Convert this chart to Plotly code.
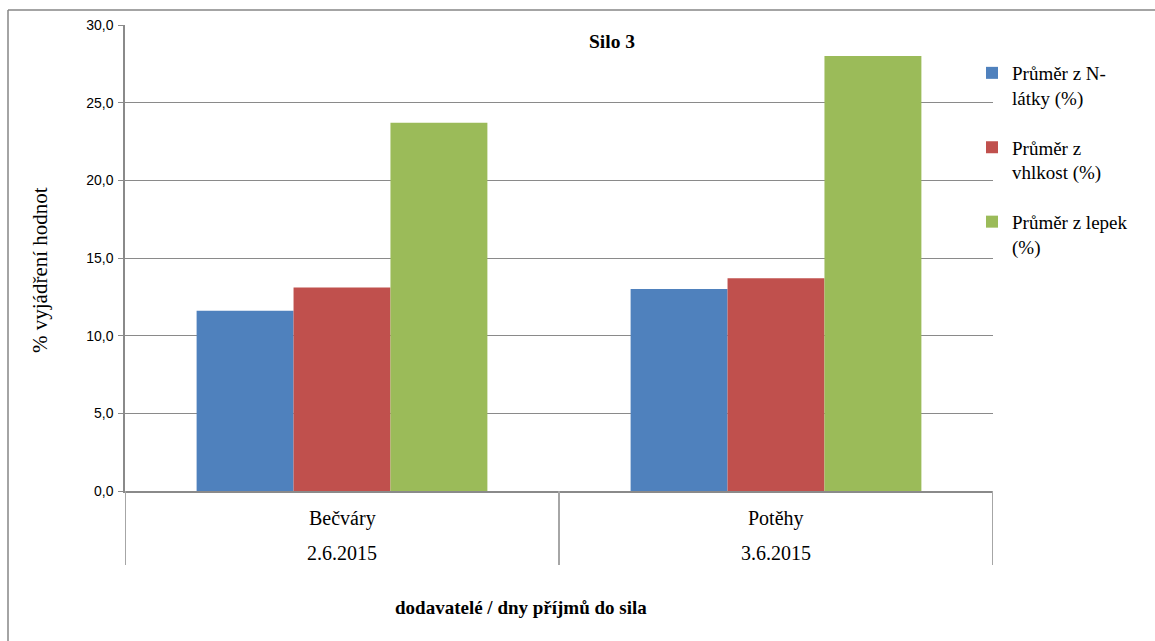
import plotly.graph_objects as go

suppliers = ["Bečváry", "Potěhy"]
dates = ["2.6.2015", "3.6.2015"]
series_names = ["Průměr z N-<br>látky (%)", "Průměr z<br>vhlkost (%)", "Průměr z lepek<br>(%)"]
n_latky = [11.6, 13.0]
vlhkost = [13.1, 13.7]
lepek = [23.7, 28.0]
colors = ["#4F81BD", "#C0504D", "#9BBB59"]

W, H = 1155, 641
L, R, T, B = 125, 993, 25, 491
serif = "Liberation Serif"
sans = "Liberation Sans"
grid = "#8a8a8a"

fig = go.Figure()
for i, (name, vals) in enumerate(zip(series_names, [n_latky, vlhkost, lepek])):
    fig.add_trace(go.Bar(x=suppliers, y=vals, name=name, marker_color=colors[i],
                         marker_line_width=0, legendgroup=f"g{i}"))

def px(xp):
    return (xp - L) / (R - L)

def py(yp):
    return (B - yp) / (B - T)

annotations = []
for i, (s, d) in enumerate(zip(suppliers, dates)):
    annotations.append(dict(x=s, y=py(518), xref="x", yref="paper", text=s, showarrow=False,
                            font=dict(family=serif, size=20, color="#000"), yanchor="middle"))
    annotations.append(dict(x=s, y=py(553), xref="x", yref="paper", text=d, showarrow=False,
                            font=dict(family=serif, size=20, color="#000"), yanchor="middle"))
annotations.append(dict(x=px(612), y=py(42), xref="paper", yref="paper", text="<b>Silo 3</b>",
                        showarrow=False, font=dict(family=serif, size=19.5, color="#000"), yanchor="middle"))
annotations.append(dict(x=px(521), y=py(607), xref="paper", yref="paper",
                        text="<b>dodavatelé / dny příjmů do sila</b>", showarrow=False,
                        font=dict(family=serif, size=19, color="#000"), yanchor="middle"))
annotations.append(dict(x=px(40), y=py(270), xref="paper", yref="paper", text="% vyjádření hodnot",
                        showarrow=False, textangle=-90, font=dict(family=serif, size=21, color="#000"),
                        xanchor="center", yanchor="middle"))

shapes = []
for xv in [-0.5, 0.5, 1.5]:
    shapes.append(dict(type="line", xref="x", yref="paper", x0=xv, x1=xv, y0=0, y1=py(565),
                       line=dict(color="#a6a6a6", width=2)))
# outer border (left and top)
shapes.append(dict(type="line", xref="paper", yref="paper", x0=px(8), x1=px(8), y0=py(10), y1=py(645),
                   line=dict(color="#868686", width=1.5)))
shapes.append(dict(type="line", xref="paper", yref="paper", x0=px(8), x1=px(1160), y0=py(10), y1=py(10),
                   line=dict(color="#868686", width=1.5)))

fig.update_layout(
    width=W, height=H,
    margin=dict(l=L, r=W - R, t=T, b=H - B, pad=0),
    paper_bgcolor="white", plot_bgcolor="white",
    barmode="group", bargap=0.33, bargroupgap=0,
    separators=", ",
    showlegend=True,
    legend=dict(x=px(972), y=py(54), xanchor="left", yanchor="top",
                font=dict(family=serif, size=19, color="#000"),
                valign="top", tracegroupgap=22, itemwidth=30,
                bgcolor="rgba(0,0,0,0)"),
    annotations=annotations,
    shapes=shapes,
    xaxis=dict(range=[-0.5, 1.5], showticklabels=False, showline=True, linecolor=grid, linewidth=1.5,
               showgrid=False, ticks="", zeroline=False, fixedrange=True),
    yaxis=dict(range=[0, 30], dtick=5, tickformat=".1f", showline=True, linecolor=grid, linewidth=1.5,
               showgrid=True, gridcolor=grid, gridwidth=1, ticks="outside", ticklen=5, tickcolor=grid,
               ticklabelstandoff=2,
               tickfont=dict(family=sans, size=14, color="#000"), zeroline=False, fixedrange=True),
)

fig.write_html("out.html", config={"displayModeBar": False},
               post_script="document.body.style.margin='0';document.body.style.overflow='hidden';")
